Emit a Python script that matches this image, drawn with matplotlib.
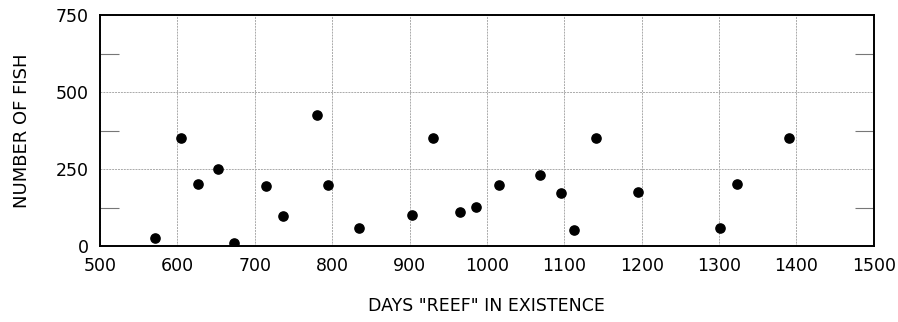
import matplotlib.pyplot as plt
from matplotlib.ticker import MultipleLocator

# Days the reef had existed vs. fish counted
days = [571, 605, 627, 653, 673, 714, 737, 780, 794, 835, 903, 930,
        965, 986, 1015, 1068, 1096, 1113, 1141, 1195, 1301, 1323, 1390]
fish = [26, 350, 200, 250, 10, 195, 98, 425, 198, 57, 100, 350,
        112, 128, 198, 230, 173, 52, 350, 176, 58, 200, 352]

x_ticks = [500, 600, 700, 800, 900, 1000, 1100, 1200, 1300, 1400, 1500]
y_ticks = [0, 250, 500, 750]

plt.rcParams['font.family'] = ['DejaVu Sans']

fig = plt.figure(figsize=(8.98, 3.22), dpi=100)
ax = fig.add_axes([0.1114, 0.236, 0.8616, 0.717])

ax.scatter(days, fish, s=44, color='black', zorder=3)

ax.set_xlim(500, 1500)
ax.set_ylim(0, 750)
ax.set_xticks(x_ticks)
ax.set_yticks(y_ticks)
ax.yaxis.set_minor_locator(MultipleLocator(125))
ax.grid(True, which='major', color='#aaaaaa', linewidth=0.7, linestyle=(0, (2, 1)))

ax.tick_params(axis='both', which='major', length=0, labelsize=12.5, pad=8)
ax.tick_params(axis='y', which='minor', direction='in', length=14, width=0.8,
               left=True, right=True, color='#777777')

for s in ax.spines.values():
    s.set_linewidth(1.4)

ax.set_ylabel('NUMBER OF FISH', fontsize=13, labelpad=18)
ax.set_xlabel('DAYS "REEF" IN EXISTENCE', fontsize=12.5, labelpad=16)

fig.savefig('out.png', dpi=100)
